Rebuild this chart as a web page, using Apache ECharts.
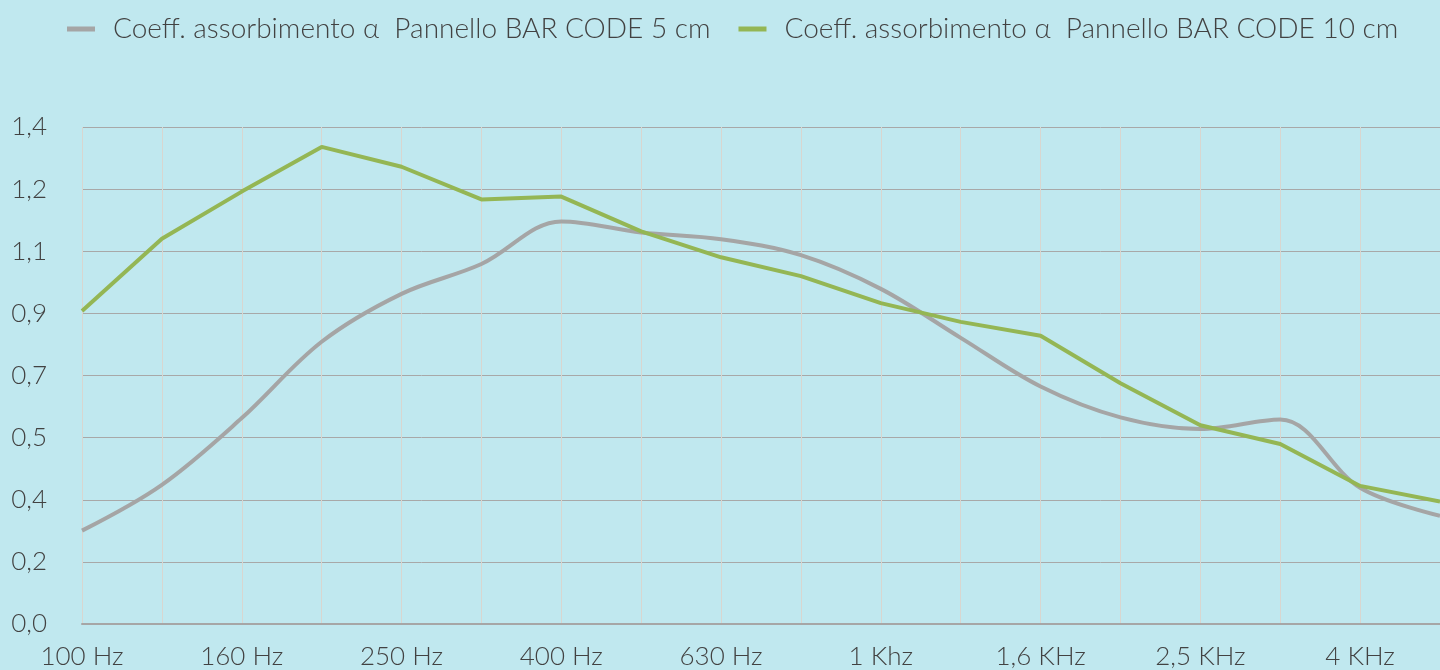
<!DOCTYPE html>
<html>
<head>
<meta charset="utf-8">
<script src="https://cdn.jsdelivr.net/npm/echarts@6/dist/echarts.min.js"></script>
<style>
  html, body {margin: 0; padding: 0; background: #c0e8ef;}
  #chart {width: 1440px; height: 670px;}
</style>
</head>
<body>
<div id="chart"></div>
<script>
const freqs = ['100 Hz', '125 Hz', '160 Hz', '200 Hz', '250 Hz', '315 Hz', '400 Hz', '500 Hz', '630 Hz',
  '800 Hz', '1 Khz', '1,25 KHz', '1,6 KHz', '2 KHz', '2,5 KHz', '3,15 KHz', '4 KHz', '5 KHz']
const panel5 = [0.263, 0.392, 0.580, 0.795, 0.930, 1.014, 1.134, 1.103, 1.084,
  1.039, 0.944, 0.806, 0.669, 0.582, 0.549, 0.576, 0.384, 0.305]
const panel10 = [0.882, 1.085, 1.218, 1.344, 1.288, 1.196, 1.204, 1.106, 1.033,
  0.980, 0.904, 0.851, 0.812, 0.678, 0.560, 0.507, 0.389, 0.345]
const yLabels = ['0,0', '0,2', '0,4', '0,5', '0,7', '0,9', '1,1', '1,2', '1,4']
const names = ['Coeff. assorbimento α  Pannello BAR CODE 5 cm', 'Coeff. assorbimento α  Pannello BAR CODE 10 cm']

const font = 'Lato, "Open Sans", sans-serif'
const chart = echarts.init(document.getElementById('chart'))

chart.setOption({
  backgroundColor: '#c0e8ef',
  animation: false,
  legend: {
    top: 10,
    left: 62,
    icon: 'rect',
    itemWidth: 28,
    itemHeight: 5,
    itemGap: 28,
    textStyle: {fontFamily: font, fontSize: 28, fontWeight: 300, color: '#424242', padding: [0, 0, 0, 13]},
    data: names
  },
  grid: {left: 82, right: -2, top: 127, bottom: 43},
  xAxis: {
    type: 'category',
    boundaryGap: false,
    data: freqs,
    axisTick: {show: false},
    axisLine: {lineStyle: {color: '#a6a6a6', width: 2}},
    axisLabel: {interval: 1, margin: 20, fontFamily: font, fontSize: 26, fontWeight: 300, color: '#424242'},
    splitLine: {show: true, interval: 0, lineStyle: {color: '#d8d6d0', width: 1}}
  },
  yAxis: {
    type: 'value',
    min: 0,
    max: 1.4,
    interval: 0.175,
    axisLine: {show: false},
    axisTick: {show: false},
    axisLabel: {
      margin: 35, fontFamily: font, fontSize: 26, fontWeight: 300, color: '#424242',
      formatter: (v) => yLabels[Math.round(v / 0.175)]
    },
    splitLine: {lineStyle: {color: '#a8a8a8', width: 1}}
  },
  series: [
    {
      name: names[0],
      type: 'line',
      data: panel5,
      smooth: 0.35,
      symbol: 'none',
      itemStyle: {color: '#a5a5a5'},
      lineStyle: {color: '#a5a5a5', width: 4}
    },
    {
      name: names[1],
      type: 'line',
      data: panel10,
      symbol: 'none',
      itemStyle: {color: '#94b654'},
      lineStyle: {color: '#94b654', width: 4}
    }
  ]
})
</script>
</body>
</html>
